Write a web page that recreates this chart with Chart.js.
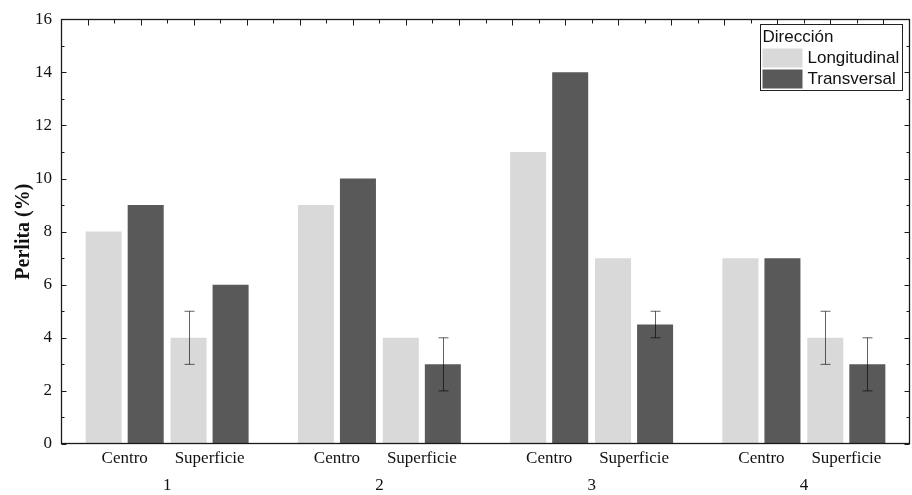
<!DOCTYPE html>
<html>
<head>
<meta charset="utf-8">
<script src="https://cdn.jsdelivr.net/npm/chart.js@4.4.1/dist/chart.umd.min.js"></script>
<style>
  html, body { margin: 0; padding: 0; background: #ffffff; }
  canvas { display: block; }
</style>
</head>
<body>
<canvas id="chart" width="912" height="495"></canvas>
<script>
// Muestras 1-4, cada una medida en el centro y en la superficie
const groups = ['1', '2', '3', '4'];
const zones = ['Centro', 'Superficie'];
const seriesNames = ['Longitudinal', 'Transversal'];
const longitudinal = [8, 4, 9, 4, 11, 7, 7, 4];
const transversal = [9, 6, 10, 3, 14, 4.5, 7, 3];
const longitudinalErr = [0, 1, 0, 0, 0, 0, 0, 1];
const transversalErr = [0, 0, 0, 1, 0, 0.5, 0, 1];
const legendTitle = 'Dirección';
const yTitle = 'Perlita (%)';
const yMin = 0, yMax = 16, yStep = 2;

const colors = ['#d9d9d9', '#595959'];
const serif = '"Liberation Serif", "Times New Roman", serif';
const sans = '"Liberation Sans", Arial, sans-serif';

// Each sample occupies 5 half-slot units: two zones two units apart plus a gap
function zonePos(i) {
  const g = Math.floor(i / zones.length), s = i % zones.length;
  return 1.5 + g * 5 + s * 2;
}
function groupPos(g) { return 2.5 + g * 5; }

const zoneCount = groups.length * zones.length;
const zonePositions = Array.from({ length: zoneCount }, (_, i) => zonePos(i));
const zoneLabels = zonePositions.map((_, i) => zones[i % zones.length]);

const errors = [longitudinalErr, transversalErr];
const values = [longitudinal, transversal];

const framePlugin = {
  id: 'frameTicksErrors',
  afterDatasetsDraw(chart) {
    const ctx = chart.ctx;
    const ys = chart.scales.y;
    ctx.save();
    ctx.lineWidth = 1;
    ctx.strokeStyle = 'rgba(0,0,0,0.62)';
    values.forEach((vals, d) => {
      const meta = chart.getDatasetMeta(d);
      vals.forEach((v, i) => {
        const e = errors[d][i];
        if (!e) return;
        const x = Math.round(meta.data[i].x) + 0.5;
        const yt = ys.getPixelForValue(v + e);
        const yb = ys.getPixelForValue(v - e);
        ctx.beginPath();
        ctx.moveTo(x, yt); ctx.lineTo(x, yb);
        ctx.moveTo(x - 5, yt); ctx.lineTo(x + 5, yt);
        ctx.moveTo(x - 5, yb); ctx.lineTo(x + 5, yb);
        ctx.stroke();
      });
    });
    ctx.restore();
  },
  afterDraw(chart) {
    const ctx = chart.ctx;
    const a = chart.chartArea;
    const ys = chart.scales.y;
    const L = Math.round(a.left) + 0.5, R = Math.round(a.right) - 0.5;
    const T = Math.round(a.top) + 0.5, B = Math.round(a.bottom) - 0.5;
    ctx.save();
    ctx.strokeStyle = '#1a1a1a';
    ctx.lineWidth = 1.3;
    ctx.strokeRect(L, T, R - L, B - T);
    ctx.lineWidth = 1;
    ctx.beginPath();
    // inward ticks on the left and right axes, minor ticks at odd values
    for (let v = yMin; v <= yMax; v += 1) {
      const y = Math.round(ys.getPixelForValue(v)) + 0.5;
      const len = (v % yStep === 0) ? 5 : 3;
      ctx.moveTo(L, y); ctx.lineTo(L + len, y);
      ctx.moveTo(R, y); ctx.lineTo(R - len, y);
    }
    // inward ticks along the top edge
    const n = 32;
    for (let k = 1; k < n; k++) {
      const x = Math.round(a.left + (a.right - a.left) * k / n) + 0.5;
      const len = (k % 2 === 1) ? 6 : 4;
      ctx.moveTo(x, T); ctx.lineTo(x, T + len);
    }
    ctx.stroke();

    // legend box inside the plot, top right
    const bw = 142, bh = 66;
    const bx = Math.round(a.right) - 8 - bw + 0.5, by = Math.round(a.top) + 5 + 0.5;
    ctx.fillStyle = '#ffffff';
    ctx.fillRect(bx, by, bw, bh);
    ctx.strokeStyle = '#222';
    ctx.lineWidth = 1;
    ctx.strokeRect(bx, by, bw, bh);
    ctx.font = '17px ' + sans;
    ctx.textBaseline = 'middle';
    ctx.textAlign = 'left';
    ctx.fillStyle = '#111';
    ctx.fillText(legendTitle, bx + 2, by + 13);
    chart.data.datasets.forEach((ds, d) => {
      const sy = by + 24 + d * 21;
      ctx.fillStyle = ds.backgroundColor;
      ctx.fillRect(bx + 2, sy, 40, 19);
      ctx.fillStyle = '#111';
      ctx.fillText(ds.label, bx + 47, sy + 10);
    });
    ctx.restore();
  }
};

new Chart(document.getElementById('chart'), {
  type: 'bar',
  data: {
    datasets: seriesNames.map((name, d) => ({
      label: name,
      data: values[d].map((v, i) => ({ x: zonePositions[i], y: v })),
      backgroundColor: colors[d],
      borderWidth: 0,
      categoryPercentage: 0.99,
      barPercentage: 0.857,
      xAxisID: 'x'
    }))
  },
  options: {
    responsive: false,
    animation: false,
    events: [],
    layout: { padding: { top: 17, right: 2, left: 0, bottom: 0 } },
    plugins: {
      legend: { display: false },
      tooltip: { enabled: false }
    },
    scales: {
      x: {
        type: 'linear',
        position: 'bottom',
        min: 0,
        max: groups.length * 5,
        weight: 1,
        offset: false,
        grid: { display: false, drawTicks: false },
        border: { display: false },
        afterBuildTicks: s => { s.ticks = zonePositions.map(v => ({ value: v })); },
        afterFit: s => { s.height = 27; },
        ticks: {
          autoSkip: false,
          maxRotation: 0,
          padding: 4,
          color: '#111',
          font: { family: serif, size: 17 },
          callback: (v, i) => zoneLabels[i]
        }
      },
      xg: {
        type: 'linear',
        position: 'bottom',
        min: 0,
        max: groups.length * 5,
        weight: 2,
        offset: false,
        grid: { display: false, drawTicks: false },
        border: { display: false },
        afterBuildTicks: s => { s.ticks = groups.map((_, g) => ({ value: groupPos(g) })); },
        afterFit: s => { s.height = 24; },
        ticks: {
          autoSkip: false,
          maxRotation: 0,
          padding: 4,
          color: '#111',
          font: { family: serif, size: 17 },
          callback: (v, i) => groups[i]
        }
      },
      y: {
        min: yMin,
        max: yMax,
        grid: { display: false, drawTicks: false },
        border: { display: false },
        afterFit: s => { s.width = 61; },
        ticks: {
          stepSize: yStep,
          padding: 9,
          color: '#111',
          font: { family: serif, size: 17 }
        },
        title: {
          display: true,
          text: yTitle,
          color: '#111',
          padding: { top: 12, bottom: 0 },
          font: { family: serif, size: 20, weight: 'bold' }
        }
      }
    }
  },
  plugins: [framePlugin]
});
</script>
</body>
</html>
